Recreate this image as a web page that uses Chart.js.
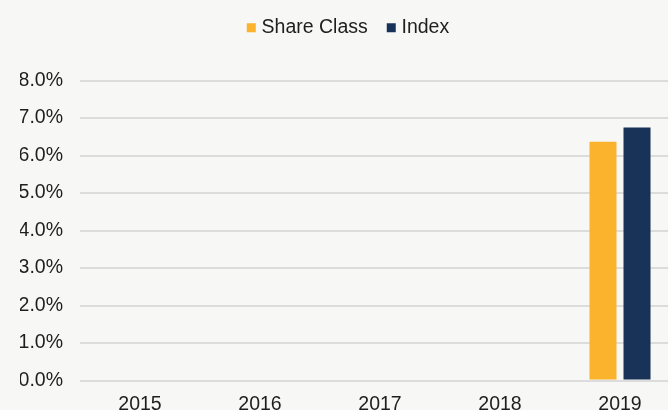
<!DOCTYPE html>
<html>
<head>
<meta charset="utf-8">
<script src="https://cdn.jsdelivr.net/npm/chart.js@4"></script>
<style>
  html, body { margin: 0; padding: 0; background: #f7f7f5; overflow: hidden; width: 668px; height: 410px; }
  #wrap { position: absolute; left: 0; top: -5px; width: 680px; height: 433px; }
</style>
</head>
<body>
<div id="wrap"><canvas id="c" width="680" height="433"></canvas></div>
<script>
const categories = ['2015', '2016', '2017', '2018', '2019'];
const shareClass = [null, null, null, null, 6.37];
const indexSeries = [null, null, null, null, 6.75];
const yTicks = [0, 1, 2, 3, 4, 5, 6, 7, 8];

const legendMargin = {
  id: 'legendMargin',
  beforeInit(chart) {
    const origFit = chart.legend.fit;
    chart.legend.fit = function () {
      origFit.bind(chart.legend)();
      this.height += 33;
    };
  }
};

Chart.defaults.font.family = '"Liberation Sans", Arial, sans-serif';
Chart.defaults.color = '#1e1e1e';

new Chart(document.getElementById('c'), {
  type: 'bar',
  data: {
    labels: categories,
    datasets: [
      { label: 'Share Class', data: shareClass, backgroundColor: '#fbb22d', categoryPercentage: 0.567, barPercentage: 0.794 },
      { label: 'Index', data: indexSeries, backgroundColor: '#183258', categoryPercentage: 0.567, barPercentage: 0.794 }
    ]
  },
  options: {
    responsive: false,
    animation: false,
    devicePixelRatio: 1,
    layout: { padding: { left: 20, right: 0, top: 0, bottom: 0 } },
    plugins: {
      legend: {
        position: 'top',
        labels: {
          font: { size: 19.5 },
          usePointStyle: true,
          pointStyle: 'rect',
          boxWidth: 1,
          boxHeight: 9,
          padding: 23,
          color: '#1e1e1e'
        }
      },
      tooltip: { enabled: false }
    },
    scales: {
      x: {
        grid: { display: false, drawTicks: false },
        border: { display: false },
        ticks: { font: { size: 19.5 }, padding: 12, color: '#1e1e1e' }
      },
      y: {
        min: 0,
        max: 8,
        afterFit(scale) { scale.width = 60; },
        afterBuildTicks(scale) { scale.ticks = yTicks.map(v => ({ value: v })); },
        grid: { color: '#dcdcdc', lineWidth: 2, drawTicks: false },
        border: { display: false },
        ticks: {
          font: { size: 19.5 },
          padding: 17,
          color: '#1e1e1e',
          callback: v => v.toFixed(1) + '%'
        }
      }
    }
  },
  plugins: [legendMargin]
});
</script>
</body>
</html>
